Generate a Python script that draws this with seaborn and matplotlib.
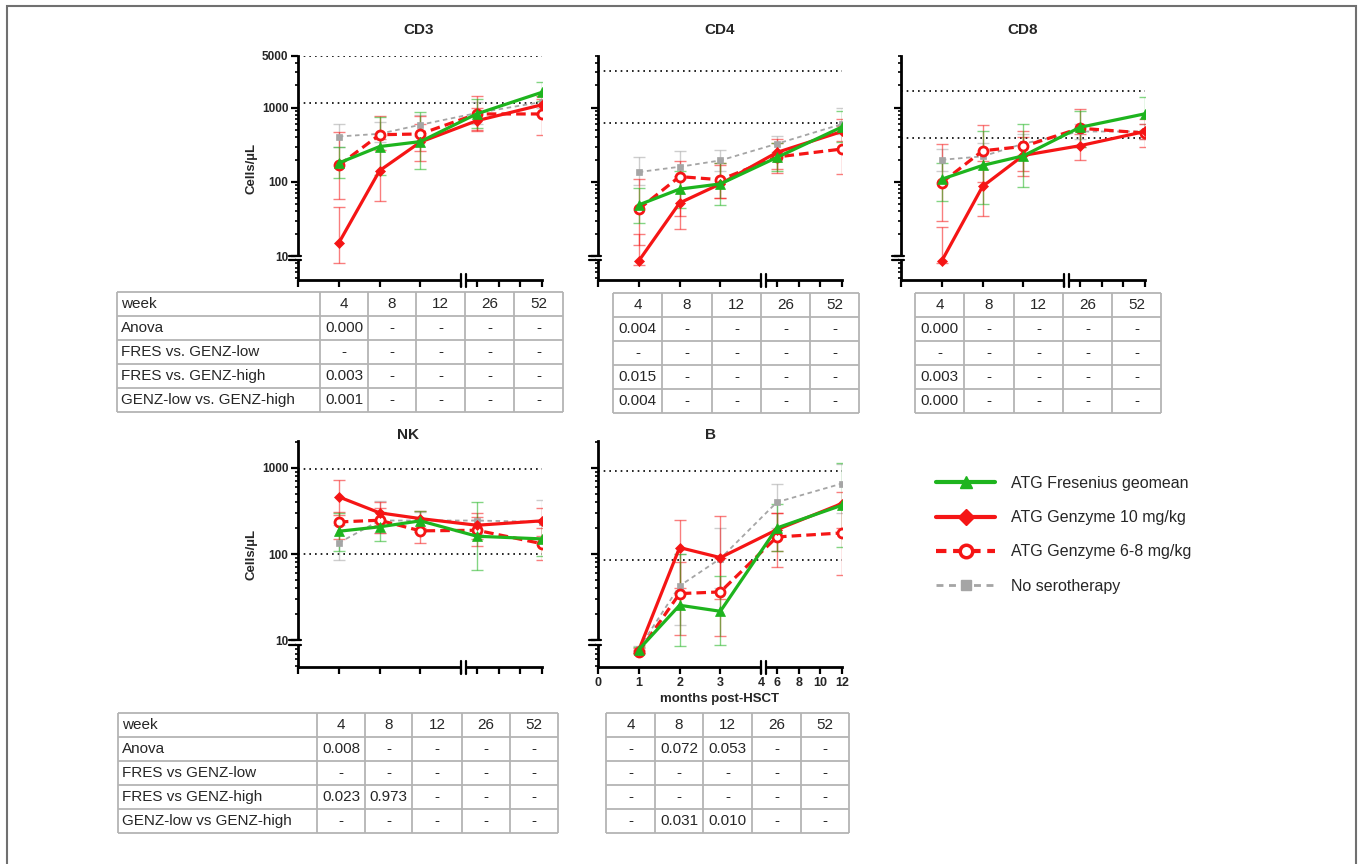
import numpy as np
import matplotlib
matplotlib.use('Agg')
import matplotlib.pyplot as plt
import matplotlib.ticker as mticker
from matplotlib.lines import Line2D
from matplotlib.patches import Rectangle
import seaborn as sns

sns.set_style("ticks")
plt.rcParams['font.family'] = ['Liberation Sans', 'DejaVu Sans']

W, H = 1362, 864

# months post-HSCT (weeks 4, 8, 12, 26, 52)
months = [1, 2, 3, 6, 12]

# geometric means and error-bar ends
cd3_fres = [180, 300, 350, 830, 1620]
cd3_fres_lo = [112, 125, 150, 530, 1250]
cd3_fres_hi = [300, 760, 880, 1300, 2250]
cd3_g10 = [15, 142, 345, 670, 1100]
cd3_g10_lo = [8, 55, 190, 480, 800]
cd3_g10_hi = [46, 380, 600, 1000, 1450]
cd3_g68 = [167, 433, 444, 826, 826]
cd3_g68_lo = [58, 270, 260, 500, 430]
cd3_g68_hi = [470, 780, 770, 1460, 1300]
cd3_none = [410, 446, 590, 850, 1200]
cd3_none_lo = [300, 350, 420, 600, 1000]
cd3_none_hi = [600, 640, 800, 1200, 1450]

cd4_fres = [49, 80, 94, 214, 552]
cd4_fres_lo = [28, 45, 49, 140, 350]
cd4_fres_hi = [84, 140, 180, 330, 900]
cd4_g10 = [8.6, 52, 94, 250, 479]
cd4_g10_lo = [7.5, 23, 60, 150, 360]
cd4_g10_hi = [20, 120, 170, 380, 700]
cd4_g68 = [43, 118, 107, 217, 278]
cd4_g68_lo = [14, 35, 60, 130, 128]
cd4_g68_hi = [109, 190, 180, 330, 560]
cd4_none = [136, 160, 195, 327, 604]
cd4_none_lo = [90, 110, 140, 250, 450]
cd4_none_hi = [220, 260, 270, 420, 980]

cd8_fres = [109, 167, 225, 545, 830]
cd8_fres_lo = [55, 50, 85, 300, 500]
cd8_fres_hi = [180, 480, 600, 900, 1400]
cd8_g10 = [8.6, 87, 228, 308, 479]
cd8_g10_lo = [8, 35, 120, 200, 300]
cd8_g10_hi = [25, 190, 400, 450, 700]
cd8_g68 = [98, 263, 301, 530, 457]
cd8_g68_lo = [30, 100, 140, 300, 380]
cd8_g68_hi = [320, 580, 480, 950, 600]
cd8_none = [199, 221, 328, 479, 479]
cd8_none_lo = [140, 150, 230, 380, 380]
cd8_none_hi = [280, 330, 450, 600, 600]

nk_fres = [184, 207, 243, 161, 150]
nk_fres_lo = [110, 140, 180, 65, 95]
nk_fres_hi = [300, 310, 320, 400, 240]
nk_g10 = [461, 301, 258, 216, 243]
nk_g10_lo = [282, 220, 200, 150, 160]
nk_g10_hi = [732, 400, 320, 300, 340]
nk_g68 = [236, 247, 186, 189, 132]
nk_g68_lo = [150, 175, 135, 125, 85]
nk_g68_hi = [310, 340, 250, 270, 200]
nk_none = [135, 245, 245, 245, 236]
nk_none_lo = [85, 175, 190, 170, 150]
nk_none_hi = [220, 410, 310, 250, 420]

b_fres = [7.8, 25.5, 21.7, 201, 369]
b_fres_lo = [7.2, 8.5, 8.8, 110, 120]
b_fres_hi = [8.4, 100, 55, 380, 1143]
b_g10 = [7.7, 119, 91, 192, 386]
b_g10_lo = [7.2, 40, 30, 110, 200]
b_g10_hi = [8.2, 251, 277, 300, 520]
b_g68 = [7.3, 34.8, 36.4, 158, 176]
b_g68_lo = [6.9, 11.5, 11.1, 70, 57]
b_g68_hi = [7.7, 80, 90, 300, 380]
b_none = [8.0, 42.7, 88.7, 400, 658]
b_none_lo = [7.5, 15, 40, 200, 300]
b_none_hi = [8.5, 100, 200, 646, 1100]

# reference ranges (dotted lines)
cd3_ref = [5000, 1150]
cd4_ref = [3100, 625]
cd8_ref = [1700, 390]
nk_ref = [960, 100]
b_ref = [920, 85]

# p-value tables
weeks = ['4', '8', '12', '26', '52']
cd3_tab = [['0.000', '-', '-', '-', '-'], ['-'] * 5,
           ['0.003', '-', '-', '-', '-'], ['0.001', '-', '-', '-', '-']]
cd4_tab = [['0.004', '-', '-', '-', '-'], ['-'] * 5,
           ['0.015', '-', '-', '-', '-'], ['0.004', '-', '-', '-', '-']]
cd8_tab = [['0.000', '-', '-', '-', '-'], ['-'] * 5,
           ['0.003', '-', '-', '-', '-'], ['0.000', '-', '-', '-', '-']]
nk_tab = [['0.008', '-', '-', '-', '-'], ['-'] * 5,
          ['0.023', '0.973', '-', '-', '-'], ['-'] * 5]
b_tab = [['-', '0.072', '0.053', '-', '-'], ['-'] * 5,
         ['-'] * 5, ['-', '0.031', '0.010', '-', '-']]
rows_top = ['Anova', 'FRES vs. GENZ-low', 'FRES vs. GENZ-high', 'GENZ-low vs. GENZ-high']
rows_bot = ['Anova', 'FRES vs GENZ-low', 'FRES vs GENZ-high', 'GENZ-low vs GENZ-high']

labels = ['ATG Fresenius geomean', 'ATG Genzyme 10 mg/kg',
          'ATG Genzyme 6-8 mg/kg', 'No serotherapy']

GREEN = '#1eb41e'
RED = '#f51515'
GREY = '#a5a5a5'
styles = {
    'fres': dict(color=GREEN, marker='^', linestyle='-', linewidth=2.3, markersize=6.5,
                 markerfacecolor=GREEN, markeredgecolor=GREEN, markeredgewidth=0.5),
    'g10': dict(color=RED, marker='D', linestyle='-', linewidth=2.3, markersize=5.5,
                markerfacecolor=RED, markeredgecolor=RED, markeredgewidth=0.5),
    'g68': dict(color=RED, marker='o', linestyle=(0, (3, 1.6)), linewidth=2.3, markersize=6.5,
                markerfacecolor='white', markeredgecolor=RED, markeredgewidth=2),
    'none': dict(color=GREY, marker='s', linestyle=(0, (2.5, 2)), linewidth=1.3, markersize=5,
                 markerfacecolor=GREY, markeredgecolor=GREY, markeredgewidth=0.5),
}

# broken x axis: months 0-4 wide, 5-12 compressed
G, R = 0.12, 0.266


def fwd(x):
    x = np.asarray(x, float)
    return np.where(x <= 4, x, np.where(x <= 5, 4 + (x - 4) * G, 4 + G + (x - 5) * R))


def inv(y):
    y = np.asarray(y, float)
    return np.where(y <= 4, y, np.where(y <= 4 + G, 4 + (y - 4) / G, 5 + (y - 4 - G) / R))


def rect(left, top, w, h):
    return [left / W, 1 - (top + h) / H, w / W, h / H]


fig = plt.figure(figsize=(W / 100, H / 100), dpi=100)


def panel(px, py, ph, series, refs, ylim, ylabs, xlabs):
    ax = fig.add_axes(rect(px, py, 244, ph))
    for key in ['none', 'g68', 'g10', 'fres']:
        m, lo, hi = series[key]
        st = styles[key]
        ax.errorbar(months, m, yerr=[np.subtract(m, lo), np.subtract(hi, m)], fmt='none',
                    ecolor=st['color'], elinewidth=1, capsize=4, capthick=1, alpha=0.55, zorder=2)
        sns.lineplot(x=months, y=m, ax=ax, zorder=3, legend=False, **st)
    for r in refs:
        ax.axhline(r, color='black', lw=1.2, linestyle=(0, (1, 2.4)), zorder=1)
    ax.set_yscale('log')
    ax.set_ylim(ylim)
    ax.set_xscale('function', functions=(fwd, inv))
    ax.set_xlim(0, 12)
    ax.set_xlabel('')
    ax.set_ylabel('')
    sns.despine(ax=ax)
    for s in ['left', 'bottom']:
        ax.spines[s].set_linewidth(2.0)
        ax.spines[s].set_color('black')
    yt = [10, 100, 1000] + ([5000] if ylabs and ylim[1] > 3000 else [])
    ax.set_yticks(yt, labels=[str(v) for v in yt] if ylabs else [''] * len(yt),
                  fontsize=8.5, fontweight='bold')
    ax.yaxis.set_minor_locator(mticker.LogLocator(base=10, subs=np.arange(2, 10)))
    ax.yaxis.set_minor_formatter(mticker.NullFormatter())
    xt = [0, 1, 2, 3, 4, 6, 8, 10, 12]
    ax.set_xticks(xt, labels=[str(v) for v in xt] if xlabs else [''] * len(xt),
                  fontsize=9, fontweight='bold')
    ax.xaxis.set_minor_locator(mticker.NullLocator())
    ax.tick_params(which='major', length=5, width=1.6, color='black', pad=2)
    ax.tick_params(which='minor', length=2.5, width=1.2, color='black')
    # axis breaks
    ty = ax.get_yaxis_transform()
    ax.plot([0, 0], [8.9, 10], transform=ty, color='white', lw=4, clip_on=False,
            zorder=5, solid_capstyle='butt')
    for yv in (8.9, 10):
        ax.plot([-0.035, 0.012], [yv, yv], transform=ty, color='black', lw=1.6,
                clip_on=False, zorder=6)
    tx = ax.get_xaxis_transform()
    ax.plot([4, 5], [0, 0], transform=tx, color='white', lw=4, clip_on=False,
            zorder=5, solid_capstyle='butt')
    for xv in (4, 5):
        ax.plot([xv, xv], [-0.03, 0.025], transform=tx, color='black', lw=1.6,
                clip_on=False, zorder=6)
    if ylabs:
        ax.set_ylabel('Cells/µL', fontsize=9.5, fontweight='bold')
        ax.yaxis.set_label_coords(-0.165, 0.5)
    if xlabs:
        ax.set_xlabel('months post-HSCT', fontsize=9.5, fontweight='bold', labelpad=3)
    return ax


TOP_LIM = (4.75, 5000)
BOT_LIM = (4.9, 2050)

panel(298, 56, 224, {'fres': (cd3_fres, cd3_fres_lo, cd3_fres_hi), 'g10': (cd3_g10, cd3_g10_lo, cd3_g10_hi),
                     'g68': (cd3_g68, cd3_g68_lo, cd3_g68_hi), 'none': (cd3_none, cd3_none_lo, cd3_none_hi)},
      cd3_ref, TOP_LIM, True, False)
panel(598, 56, 224, {'fres': (cd4_fres, cd4_fres_lo, cd4_fres_hi), 'g10': (cd4_g10, cd4_g10_lo, cd4_g10_hi),
                     'g68': (cd4_g68, cd4_g68_lo, cd4_g68_hi), 'none': (cd4_none, cd4_none_lo, cd4_none_hi)},
      cd4_ref, TOP_LIM, False, False)
panel(901, 56, 224, {'fres': (cd8_fres, cd8_fres_lo, cd8_fres_hi), 'g10': (cd8_g10, cd8_g10_lo, cd8_g10_hi),
                     'g68': (cd8_g68, cd8_g68_lo, cd8_g68_hi), 'none': (cd8_none, cd8_none_lo, cd8_none_hi)},
      cd8_ref, TOP_LIM, False, False)
panel(298, 441, 226, {'fres': (nk_fres, nk_fres_lo, nk_fres_hi), 'g10': (nk_g10, nk_g10_lo, nk_g10_hi),
                      'g68': (nk_g68, nk_g68_lo, nk_g68_hi), 'none': (nk_none, nk_none_lo, nk_none_hi)},
      nk_ref, BOT_LIM, True, False)
panel(598, 441, 226, {'fres': (b_fres, b_fres_lo, b_fres_hi), 'g10': (b_g10, b_g10_lo, b_g10_hi),
                      'g68': (b_g68, b_g68_lo, b_g68_hi), 'none': (b_none, b_none_lo, b_none_hi)},
      b_ref, BOT_LIM, False, True)

for txt, x, y in [('CD3', 419, 30), ('CD4', 720, 30), ('CD8', 1023, 30), ('NK', 408, 435), ('B', 710, 435)]:
    fig.text(x / W, 1 - y / H, txt, ha='center', va='center', fontsize=11, fontweight='bold')


def table(left, top, cols, header, rows, names=None):
    nr = len(rows) + 1
    ax = fig.add_axes(rect(left, top, sum(cols), 24 * nr))
    ax.set_xlim(0, sum(cols))
    ax.set_ylim(nr, 0)
    ax.axis('off')
    edges = np.concatenate([[0], np.cumsum(cols)])
    ax.vlines(edges, 0, nr, color='#b4b4b4', lw=1.3, clip_on=False)
    ax.hlines(np.arange(nr + 1), 0, edges[-1], color='#b4b4b4', lw=1.3, clip_on=False)
    body = [header] + rows
    for r, row in enumerate(body):
        c0 = 0
        if names is not None:
            ax.text(4, r + 0.52, (['week'] + names)[r], ha='left', va='center', fontsize=11)
            c0 = 1
        for c, t in enumerate(row):
            xc = (edges[c + c0] + edges[c + c0 + 1]) / 2
            ax.text(xc, r + 0.52, t, ha='center', va='center', fontsize=11)


table(117, 292, [203, 48, 48, 49, 49, 49], weeks, cd3_tab, rows_top)
table(613, 293, [49, 50, 49, 49, 49], weeks, cd4_tab)
table(915, 293, [49, 50, 49, 49, 49], weeks, cd8_tab)
table(118, 713, [199, 48, 47, 50, 48, 48], weeks, nk_tab, rows_bot)
table(606, 713, [49, 48, 49, 49, 48], weeks, b_tab)

handles = [
    Line2D([], [], color=GREEN, lw=3, marker='^', ms=8, mfc=GREEN, mec=GREEN),
    Line2D([], [], color=RED, lw=3, marker='D', ms=8, mfc=RED, mec=RED),
    Line2D([], [], color=RED, lw=3, linestyle=(0, (2.5, 1.6)), marker='o', ms=9, mfc='white', mec=RED, mew=2.5),
    Line2D([], [], color=GREY, lw=2, linestyle=(0, (2.5, 2)), marker='s', ms=7, mfc=GREY, mec=GREY),
]
fig.legend(handles, labels, loc='upper left', bbox_to_anchor=(936 / W, 1 - 476 / H),
           frameon=False, fontsize=11.5, handlelength=3.7, handletextpad=1.0,
           labelspacing=1.2, borderpad=0, borderaxespad=0)

fig.add_artist(Rectangle((7 / W, -0.05), (1356 - 7) / W, 1 - 6 / H + 0.05,
                         transform=fig.transFigure, fill=False, edgecolor='#707070', lw=1.5))

fig.savefig('out.png', dpi=100)
